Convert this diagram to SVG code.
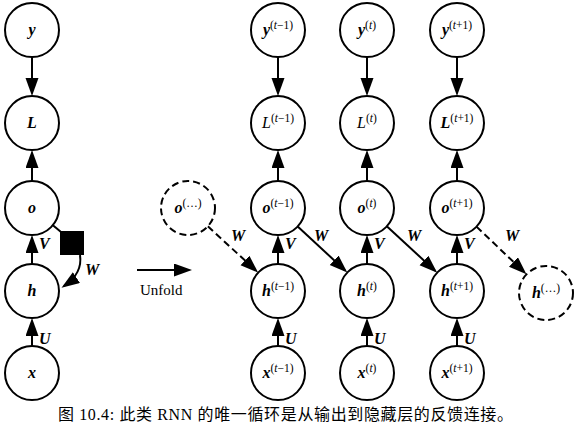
<svg xmlns="http://www.w3.org/2000/svg" width="578" height="425" viewBox="0 0 578 425">
<style>
.n{fill:#fff;stroke:#000;stroke-width:2}
.d{fill:#fff;stroke:#000;stroke-width:2;stroke-dasharray:7,4}
.lb{font-family:"Liberation Serif",serif;font-size:16px;font-weight:bold;font-style:italic;text-anchor:middle}
.li{font-family:"Liberation Serif",serif;font-size:16px;font-weight:normal;font-style:italic;text-anchor:middle}
.sup{font-size:11.5px;font-weight:normal;font-style:normal}
.it{font-style:italic}
.e{stroke:#000;stroke-width:2;fill:none;marker-end:url(#ah)}
.ed{stroke:#000;stroke-width:2;fill:none;stroke-dasharray:7,4;marker-end:url(#ah)}
.pl{font-family:"Liberation Serif",serif;font-size:16px;font-weight:bold;font-style:italic}
.t{font-family:"Liberation Serif",serif;font-size:15px}
.cap{font-family:"Liberation Serif","Noto Sans CJK SC",serif;font-size:16px}
</style>
<defs>
<marker id="ah" markerUnits="userSpaceOnUse" markerWidth="20" markerHeight="14" refX="15" refY="6.5" orient="auto">
<path d="M0,0 L18,6.5 L0,13 z" fill="#000"/>
</marker>
</defs>

<g id="connectors">
<!-- left column -->
<line class="e" x1="32" y1="57" x2="32" y2="93"/>
<line class="e" x1="32" y1="181" x2="32" y2="153"/>
<line class="e" x1="32" y1="264" x2="32" y2="238"/>
<line class="e" x1="32" y1="346" x2="32" y2="321"/>
<line stroke="#000" stroke-width="2" x1="52.9" y1="225.2" x2="61" y2="232"/>
<rect x="60" y="231" width="24" height="24" fill="#000"/>
<path class="e" d="M80,255 C82,268 76,278 64,286"/>
<!-- unfold -->
<line class="e" x1="137" y1="270" x2="189" y2="270"/>
<!-- col t-1 -->
<line class="e" x1="278" y1="57" x2="278" y2="93"/>
<line class="e" x1="278" y1="181" x2="278" y2="153"/>
<line class="e" x1="278" y1="264" x2="278" y2="238"/>
<line class="e" x1="278" y1="346" x2="278" y2="321"/>
<!-- col t -->
<line class="e" x1="367" y1="57" x2="367" y2="93"/>
<line class="e" x1="367" y1="181" x2="367" y2="153"/>
<line class="e" x1="367" y1="264" x2="367" y2="238"/>
<line class="e" x1="367" y1="346" x2="367" y2="321"/>
<!-- col t+1 -->
<line class="e" x1="457" y1="57" x2="457" y2="93"/>
<line class="e" x1="457" y1="181" x2="457" y2="153"/>
<line class="e" x1="457" y1="264" x2="457" y2="238"/>
<line class="e" x1="457" y1="346" x2="457" y2="321"/>
<!-- recurrent W -->
<line class="ed" x1="207.8" y1="226.3" x2="256" y2="270.6"/>
<line class="e" x1="297.7" y1="226.4" x2="345.1" y2="270.5"/>
<line class="e" x1="386.8" y1="226.3" x2="435" y2="270.7"/>
<line class="ed" x1="476.5" y1="226.6" x2="524.3" y2="272.3"/>
<!-- edge labels -->
<text class="pl" x="39" y="249">V</text>
<text class="pl" x="39" y="344">U</text>
<text class="pl" x="85" y="275">W</text>
<text class="pl" x="285" y="249">V</text>
<text class="pl" x="285" y="344">U</text>
<text class="pl" x="374" y="249">V</text>
<text class="pl" x="374" y="344">U</text>
<text class="pl" x="464" y="249">V</text>
<text class="pl" x="464" y="344">U</text>
<text class="pl" x="231" y="241">W</text>
<text class="pl" x="314" y="241">W</text>
<text class="pl" x="407" y="241">W</text>
<text class="pl" x="505" y="241">W</text>
<text class="t" x="140" y="295">Unfold</text>
</g>

<!-- left folded graph -->
<g id="y"><circle class="n" cx="32" cy="30" r="27"/><text class="lb" x="32" y="35">y</text></g>
<g id="L"><circle class="n" cx="32" cy="123" r="27"/><text class="lb" x="32" y="128">L</text></g>
<g id="o"><circle class="n" cx="32" cy="208" r="27"/><text class="lb" x="32" y="213">o</text></g>
<g id="h"><circle class="n" cx="32" cy="291" r="27"/><text class="lb" x="32" y="296">h</text></g>
<g id="x"><circle class="n" cx="32" cy="373" r="27"/><text class="lb" x="32" y="378">x</text></g>

<!-- dashed boundary nodes -->
<g id="o_prev"><circle class="d" cx="188" cy="208" r="27"/><text class="lb" x="188" y="213">o<tspan class="sup" dy="-6">(…)</tspan></text></g>
<g id="h_next"><circle class="d" cx="546" cy="293" r="27"/><text class="lb" x="546" y="298">h<tspan class="sup" dy="-6">(…)</tspan></text></g>

<!-- t-1 -->
<g id="y_tm1"><circle class="n" cx="278" cy="30" r="27"/><text class="lb" x="278" y="35">y<tspan class="sup" dy="-6">(<tspan class="it">t</tspan>−1)</tspan></text></g>
<g id="L_tm1"><circle class="n" cx="278" cy="123" r="27"/><text class="li" x="278" y="128">L<tspan class="sup" dy="-6">(<tspan class="it">t</tspan>−1)</tspan></text></g>
<g id="o_tm1"><circle class="n" cx="278" cy="208" r="27"/><text class="lb" x="278" y="213">o<tspan class="sup" dy="-6">(<tspan class="it">t</tspan>−1)</tspan></text></g>
<g id="h_tm1"><circle class="n" cx="278" cy="291" r="27"/><text class="lb" x="278" y="296">h<tspan class="sup" dy="-6">(<tspan class="it">t</tspan>−1)</tspan></text></g>
<g id="x_tm1"><circle class="n" cx="278" cy="373" r="27"/><text class="lb" x="278" y="378">x<tspan class="sup" dy="-6">(<tspan class="it">t</tspan>−1)</tspan></text></g>

<!-- t -->
<g id="y_t"><circle class="n" cx="367" cy="30" r="27"/><text class="lb" x="367" y="35">y<tspan class="sup" dy="-6">(<tspan class="it">t</tspan>)</tspan></text></g>
<g id="L_t"><circle class="n" cx="367" cy="123" r="27"/><text class="li" x="367" y="128">L<tspan class="sup" dy="-6">(<tspan class="it">t</tspan>)</tspan></text></g>
<g id="o_t"><circle class="n" cx="367" cy="208" r="27"/><text class="lb" x="367" y="213">o<tspan class="sup" dy="-6">(<tspan class="it">t</tspan>)</tspan></text></g>
<g id="h_t"><circle class="n" cx="367" cy="291" r="27"/><text class="lb" x="367" y="296">h<tspan class="sup" dy="-6">(<tspan class="it">t</tspan>)</tspan></text></g>
<g id="x_t"><circle class="n" cx="367" cy="373" r="27"/><text class="lb" x="367" y="378">x<tspan class="sup" dy="-6">(<tspan class="it">t</tspan>)</tspan></text></g>

<!-- t+1 -->
<g id="y_tp1"><circle class="n" cx="457" cy="30" r="27"/><text class="lb" x="457" y="35">y<tspan class="sup" dy="-6">(<tspan class="it">t</tspan>+1)</tspan></text></g>
<g id="L_tp1"><circle class="n" cx="457" cy="123" r="27"/><text class="lb" x="457" y="128">L<tspan class="sup" dy="-6">(<tspan class="it">t</tspan>+1)</tspan></text></g>
<g id="o_tp1"><circle class="n" cx="457" cy="208" r="27"/><text class="lb" x="457" y="213">o<tspan class="sup" dy="-6">(<tspan class="it">t</tspan>+1)</tspan></text></g>
<g id="h_tp1"><circle class="n" cx="457" cy="291" r="27"/><text class="lb" x="457" y="296">h<tspan class="sup" dy="-6">(<tspan class="it">t</tspan>+1)</tspan></text></g>
<g id="x_tp1"><circle class="n" cx="457" cy="373" r="27"/><text class="lb" x="457" y="378">x<tspan class="sup" dy="-6">(<tspan class="it">t</tspan>+1)</tspan></text></g>

<text class="cap" x="58" y="420" textLength="455" lengthAdjust="spacing">图 10.4: 此类 RNN 的唯一循环是从输出到隐藏层的反馈连接。</text>
</svg>
